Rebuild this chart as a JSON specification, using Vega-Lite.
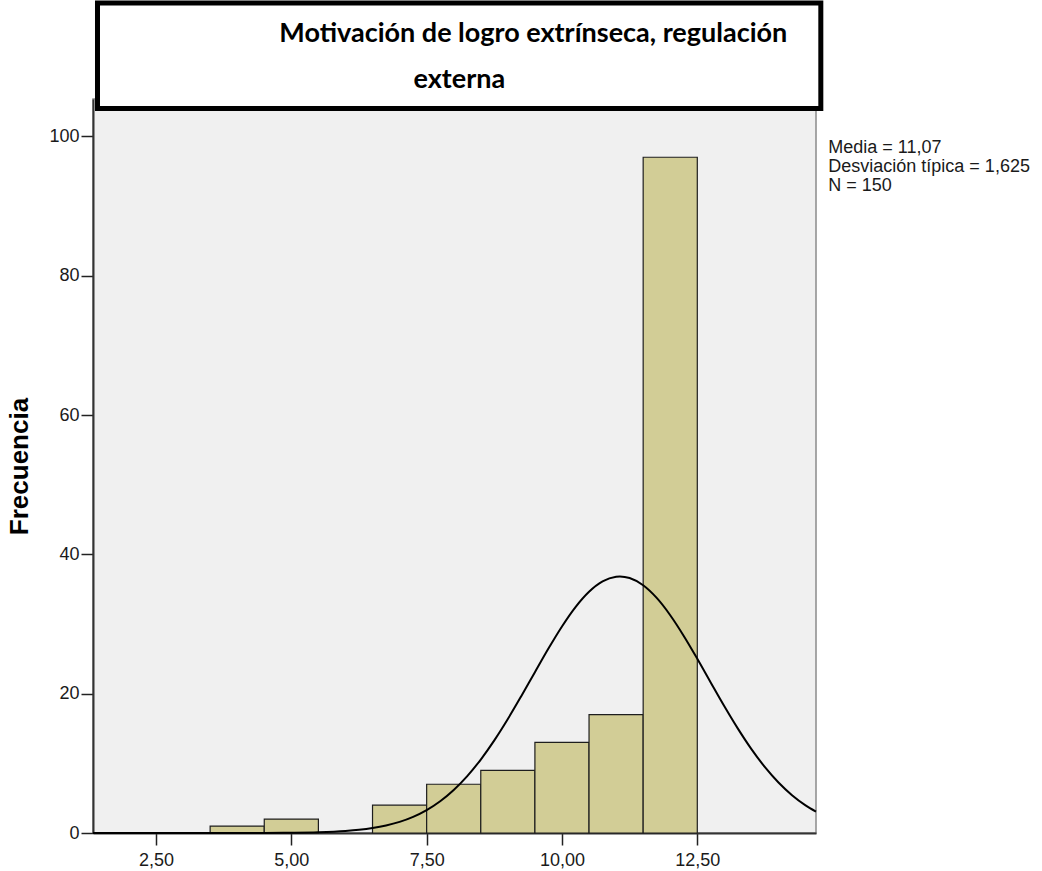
{
  "$schema": "https://vega.github.io/schema/vega-lite/v6.json",
  "autosize": {"type": "none"},
  "padding": {"left": 93, "top": 99, "right": 226, "bottom": 38},
  "width": 723,
  "height": 734,
  "background": "white",
  "datasets": {
    "bins": [
      {"bin_start": 3.5, "bin_end": 4.5, "count": 1},
      {"bin_start": 4.5, "bin_end": 5.5, "count": 2},
      {"bin_start": 6.5, "bin_end": 7.5, "count": 4},
      {"bin_start": 7.5, "bin_end": 8.5, "count": 7},
      {"bin_start": 8.5, "bin_end": 9.5, "count": 9},
      {"bin_start": 9.5, "bin_end": 10.5, "count": 13},
      {"bin_start": 10.5, "bin_end": 11.5, "count": 17},
      {"bin_start": 11.5, "bin_end": 12.5, "count": 97}
    ],
    "curve": [
      {"x": 1.336, "y": 0},
      {"x": 2, "y": 0},
      {"x": 3, "y": 0.0002},
      {"x": 4, "y": 0.003},
      {"x": 4.5, "y": 0.0104},
      {"x": 5, "y": 0.034},
      {"x": 5.5, "y": 0.103},
      {"x": 6, "y": 0.284},
      {"x": 6.25, "y": 0.452},
      {"x": 6.5, "y": 0.706},
      {"x": 6.75, "y": 1.076},
      {"x": 7, "y": 1.6},
      {"x": 7.25, "y": 2.324},
      {"x": 7.5, "y": 3.297},
      {"x": 7.75, "y": 4.567},
      {"x": 8, "y": 6.183},
      {"x": 8.25, "y": 8.172},
      {"x": 8.5, "y": 10.544},
      {"x": 8.75, "y": 13.29},
      {"x": 9, "y": 16.36},
      {"x": 9.25, "y": 19.67},
      {"x": 9.5, "y": 23.09},
      {"x": 9.75, "y": 26.48},
      {"x": 10, "y": 29.65},
      {"x": 10.25, "y": 32.43},
      {"x": 10.5, "y": 34.63},
      {"x": 10.75, "y": 36.12},
      {"x": 11, "y": 36.79},
      {"x": 11.07, "y": 36.83},
      {"x": 11.25, "y": 36.6},
      {"x": 11.5, "y": 35.56},
      {"x": 11.75, "y": 33.74},
      {"x": 12, "y": 31.26},
      {"x": 12.25, "y": 28.29},
      {"x": 12.5, "y": 25.01},
      {"x": 12.75, "y": 21.58},
      {"x": 13, "y": 18.19},
      {"x": 13.25, "y": 14.98},
      {"x": 13.5, "y": 12.04},
      {"x": 13.75, "y": 9.453},
      {"x": 14, "y": 7.248},
      {"x": 14.25, "y": 5.428},
      {"x": 14.5, "y": 3.97},
      {"x": 14.693, "y": 3.07}
    ]
  },
  "layer": [
    {
      "data": {"name": "bins"},
      "mark": {"type": "bar", "fill": "#d2cd96", "stroke": "#1e1e1e", "strokeWidth": 1.2},
      "encoding": {
        "x": {
          "field": "bin_start",
          "type": "quantitative",
          "scale": {"domain": [1.336, 14.693], "nice": false, "zero": false},
          "axis": {
            "values": [2.5, 5, 7.5, 10, 12.5],
            "labelExpr": "replace(format(datum.value, '.2f'), '.', ',')",
            "title": null,
            "grid": false,
            "tickSize": 12,
            "labelPadding": 6,
            "labelFontSize": 18
          }
        },
        "x2": {"field": "bin_end"},
        "y": {
          "field": "count",
          "type": "quantitative",
          "scale": {"domain": [0, 105.36], "nice": false},
          "axis": {
            "values": [0, 20, 40, 60, 80, 100],
            "title": "Frecuencia",
            "grid": false,
            "tickSize": 12,
            "labelPadding": 2,
            "labelFontSize": 18,
            "titleFont": "Liberation Sans",
            "titleFontSize": 26,
            "titleFontWeight": "bold",
            "titleColor": "#000000",
            "titleAngle": 270,
            "titleBaseline": "alphabetic",
            "titleAlign": "center",
            "titleX": -66,
            "titleY": 367
          }
        },
        "y2": {"datum": 0}
      }
    },
    {
      "data": {"name": "curve"},
      "mark": {"type": "line", "color": "#000000", "strokeWidth": 2, "interpolate": "monotone"},
      "encoding": {
        "x": {"field": "x", "type": "quantitative"},
        "y": {"field": "y", "type": "quantitative"}
      }
    },
    {
      "data": {"values": [{"item": "title box"}]},
      "mark": {"type": "rect", "fill": "#ffffff", "stroke": "#000000", "strokeWidth": 5, "clip": false},
      "encoding": {
        "x": {"datum": 1.419, "type": "quantitative"},
        "x2": {"datum": 14.782},
        "y": {"datum": 104.0, "type": "quantitative"},
        "y2": {"datum": 119.13}
      }
    },
    {
      "data": {"values": [{"item": "title line 1"}]},
      "mark": {"type": "text", "text": "Motivación de logro extrínseca, regulación", "font": "Lato", "fontWeight": "bold", "fontSize": 27, "align": "center", "baseline": "alphabetic", "color": "#000000", "clip": false},
      "encoding": {
        "x": {"datum": 9.47, "type": "quantitative"},
        "y": {"datum": 113.58, "type": "quantitative"}
      }
    },
    {
      "data": {"values": [{"item": "title line 2"}]},
      "mark": {"type": "text", "text": "externa", "font": "Lato", "fontWeight": "bold", "fontSize": 27, "align": "center", "baseline": "alphabetic", "color": "#000000", "clip": false},
      "encoding": {
        "x": {"datum": 8.103, "type": "quantitative"},
        "y": {"datum": 106.97, "type": "quantitative"}
      }
    },
    {
      "data": {"values": [{"item": "stats"}]},
      "mark": {"type": "text", "text": ["Media = 11,07", "Desviación típica = 1,625", "N = 150"], "font": "Liberation Sans", "fontSize": 18, "lineHeight": 19, "align": "left", "baseline": "alphabetic", "color": "#1a1a1a", "clip": false},
      "encoding": {
        "x": {"datum": 14.92, "type": "quantitative"},
        "y": {"datum": 97.65, "type": "quantitative"}
      }
    }
  ],
  "config": {
    "view": {"fill": "#f0f0f0", "stroke": "#8a8a8a", "strokeWidth": 1.5},
    "axis": {
      "labelFont": "Liberation Sans",
      "labelColor": "#1a1a1a",
      "domainColor": "#333333",
      "domainWidth": 2,
      "tickColor": "#222222",
      "tickWidth": 1.5
    }
  }
}
